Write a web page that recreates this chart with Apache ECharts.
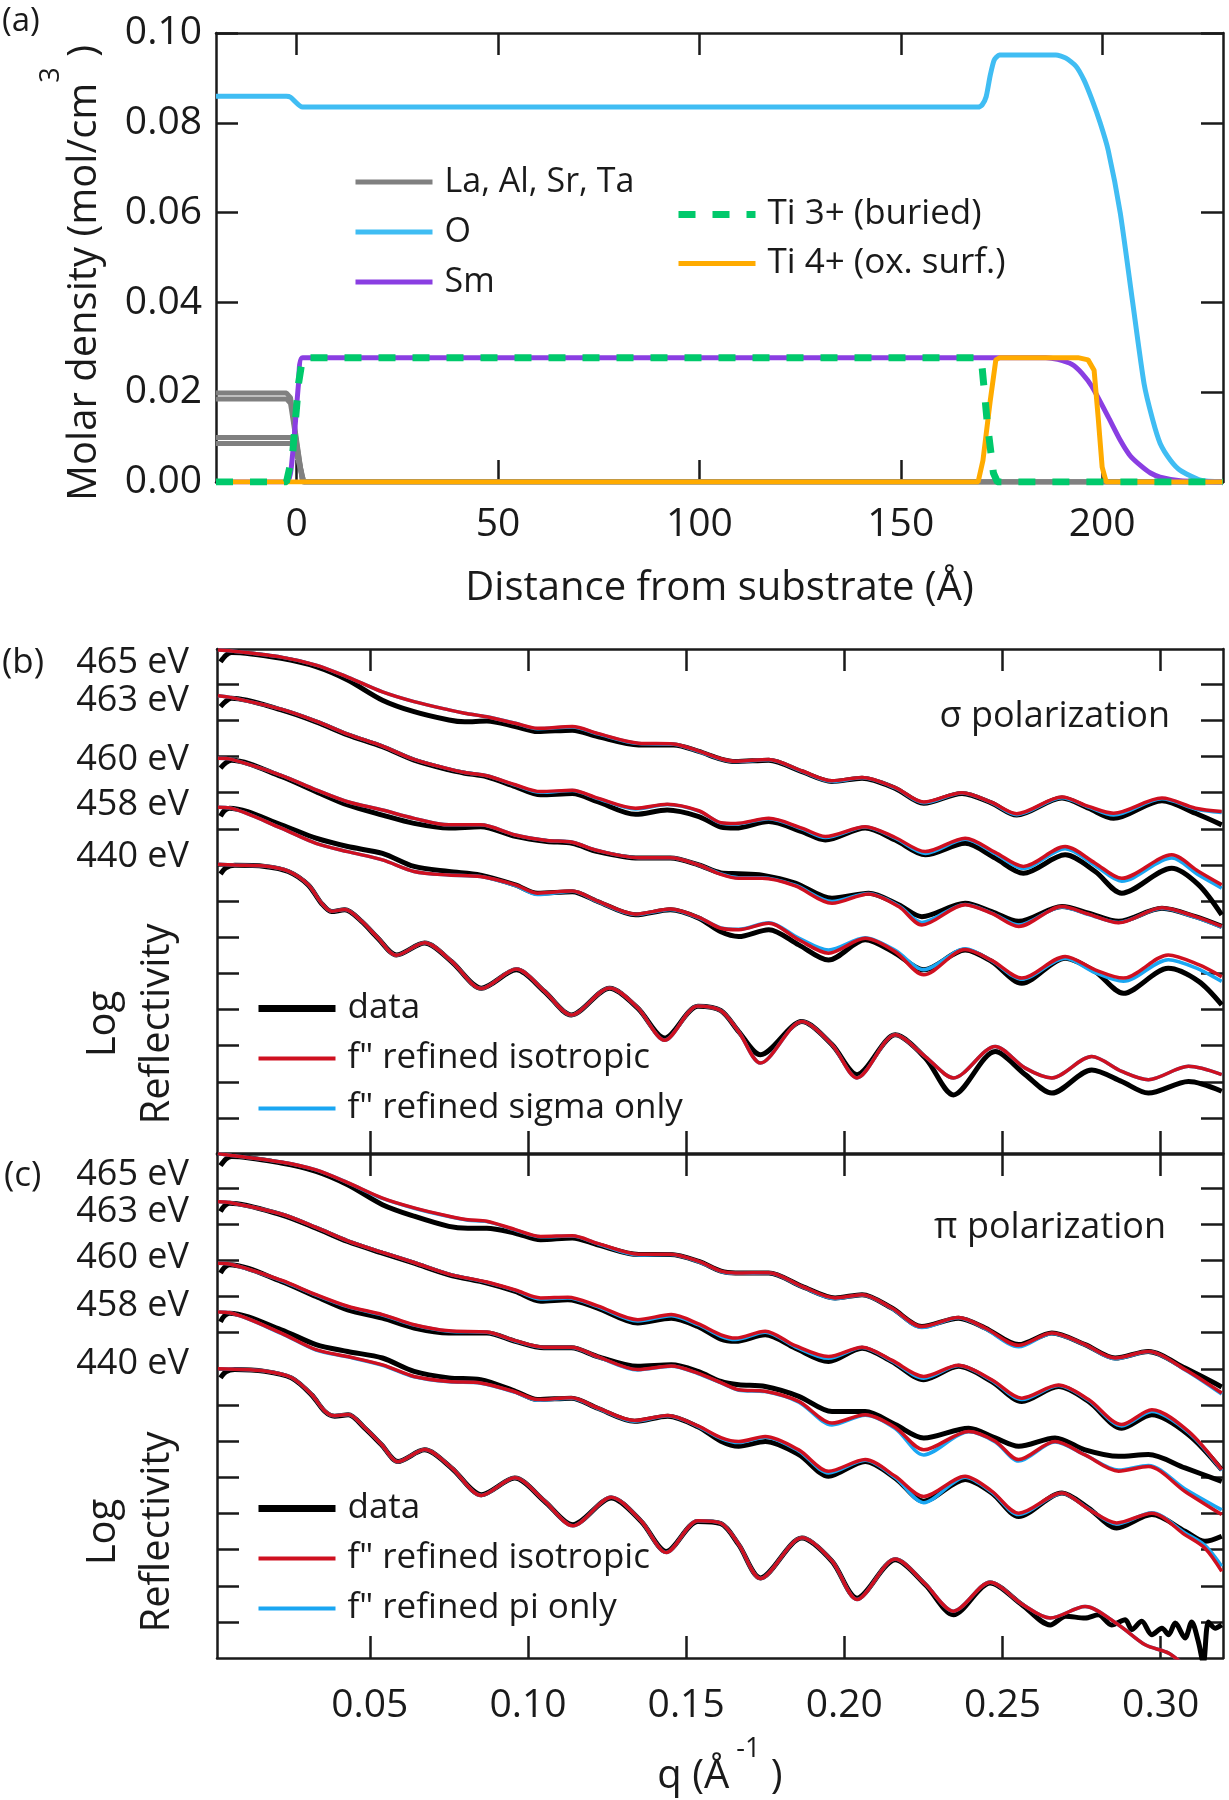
<!DOCTYPE html>
<html><head><meta charset="utf-8">
<script src="https://cdn.jsdelivr.net/npm/echarts@6/dist/echarts.min.js"></script>
<style>html,body{margin:0;padding:0;background:#fff}#chart{width:1229px;height:1800px}</style>
</head><body><div id="chart"></div>
<script>
// ---------- Panel (a): molar density profiles ----------
const distTicks = [0, 50, 100, 150, 200];
const densTicks = [0, 0.02, 0.04, 0.06, 0.08, 0.10];
const lineLa = [[-20,0.0198],[-2.5,0.0198],[-1.5,0.0188],[1.5,0],[230,0]];
const lineAl = [[-20,0.0185],[-2.5,0.0185],[-1.5,0.0175],[1.5,0],[230,0]];
const lineSr = [[-20,0.0099],[-1.5,0.0099],[-0.5,0.0090],[1.8,0],[230,0]];
const lineTa = [[-20,0.0086],[-1.5,0.0086],[-0.5,0.0078],[1.8,0],[230,0]];
const lineO  = [[-20,0.0859],[-2.5,0.0859],[-1.5,0.0857],[1.5,0.0835],[169.2,0.0835],[170.2,0.0840],[171.2,0.0858],[172.2,0.0905],[173.2,0.0940],[174.5,0.0951],[188.5,0.0951],[191,0.0944],[193.5,0.0926],[195.5,0.0895],[197.5,0.0851],[199.5,0.0800],[201.5,0.0739],[204.5,0.0599],[207.5,0.0405],[210.4,0.0219],[212.5,0.0140],[214.4,0.0086],[217,0.0048],[219.4,0.0026],[224.4,0.0004],[230,0]];
const lineSm = [[-20,0],[-2.5,0],[-1,0.006],[0.5,0.022],[1.5,0.0277],[186,0.0277],[189,0.0273],[192.5,0.0262],[195,0.0242],[197.5,0.0212],[201.5,0.0145],[204.5,0.0093],[207,0.0058],[209.5,0.0037],[212,0.0020],[214.4,0.0011],[219.4,0.0003],[230,0]];
const lineTi3 = [[-20,0],[-2.5,0],[-1,0.006],[0.5,0.022],[1.5,0.0277],[169.5,0.0277],[170.2,0.0255],[171.5,0.0130],[173,0.0020],[174,0],[230,0]];
const lineTi4 = [[-20,0],[169.2,0],[170.4,0.0048],[172.2,0.0180],[173.6,0.0272],[174.6,0.0277],[194,0.0277],[196.5,0.0272],[198,0.0249],[199,0.0145],[200,0.0033],[201,0],[230,0]];

// ---------- Panels (b), (c): log reflectivity (decades, offset) ----------
const qTicks = [0.05, 0.10, 0.15, 0.20, 0.25, 0.30];
const decadeTicks = [0,1,2,3,4,5,6,7,8,9,10,11,12];
const energyLabels = ['465 eV','463 eV','460 eV','458 eV','440 eV'];
const energyPosB = [12.6, 11.53, 9.9, 8.66, 7.22];
const energyPosC = [12.36, 11.33, 10.08, 8.75, 7.14];

// (b) sigma polarization
const b465Data = [[0.0028,12.62],[0.0045,12.8],[0.0063,12.88],[0.022,12.72],[0.033,12.49],[0.043,12.12],[0.054,11.56],[0.064,11.24],[0.075,11.01],[0.080,10.96],[0.087,10.98],[0.096,10.83],[0.103,10.69],[0.114,10.73],[0.122,10.55],[0.135,10.32],[0.146,10.32],[0.154,10.14],[0.161,9.93],[0.1656,9.86],[0.1761,9.9],[0.1866,9.58],[0.1961,9.31],[0.2056,9.4],[0.2161,9.12],[0.2251,8.71],[0.2372,8.98],[0.2466,8.71],[0.2545,8.38],[0.2688,8.85],[0.2772,8.57],[0.2851,8.29],[0.3004,8.78],[0.311,8.43],[0.3193,8.11]];
const b465Iso = [[0.002,12.95],[0.0063,12.92],[0.022,12.75],[0.033,12.53],[0.043,12.2],[0.054,11.79],[0.064,11.52],[0.075,11.29],[0.080,11.2],[0.087,11.1],[0.096,10.92],[0.103,10.78],[0.114,10.83],[0.122,10.64],[0.135,10.37],[0.146,10.35],[0.154,10.15],[0.161,9.94],[0.1656,9.87],[0.1761,9.92],[0.1866,9.6],[0.1961,9.33],[0.2056,9.42],[0.2161,9.14],[0.2251,8.74],[0.2372,9.0],[0.2466,8.73],[0.2545,8.42],[0.2688,8.88],[0.2772,8.62],[0.2851,8.43],[0.3004,8.85],[0.311,8.57],[0.3193,8.48]];
const b465Sig = [[0.002,12.95],[0.0063,12.92],[0.022,12.75],[0.033,12.53],[0.043,12.2],[0.054,11.79],[0.064,11.52],[0.075,11.29],[0.080,11.2],[0.087,11.1],[0.096,10.92],[0.103,10.77],[0.114,10.82],[0.122,10.63],[0.135,10.36],[0.146,10.34],[0.154,10.14],[0.161,9.93],[0.1656,9.86],[0.1761,9.91],[0.1866,9.59],[0.1961,9.31],[0.2056,9.41],[0.2161,9.13],[0.2251,8.72],[0.2372,8.99],[0.2466,8.72],[0.2545,8.39],[0.2688,8.86],[0.2772,8.6],[0.2851,8.38],[0.3004,8.83],[0.311,8.55],[0.3193,8.45]];

const b463Data = [[0.0028,11.38],[0.0045,11.53],[0.0063,11.61],[0.022,11.29],[0.033,10.96],[0.043,10.6],[0.054,10.27],[0.064,9.9],[0.075,9.63],[0.080,9.54],[0.087,9.44],[0.096,9.17],[0.104,8.94],[0.114,8.98],[0.122,8.75],[0.134,8.4],[0.144,8.52],[0.154,8.34],[0.161,8.05],[0.1656,8.02],[0.1761,8.2],[0.1866,7.92],[0.194,7.69],[0.2066,8.02],[0.2161,7.69],[0.2256,7.28],[0.2382,7.6],[0.2477,7.19],[0.2566,6.77],[0.2698,7.28],[0.2793,6.82],[0.2877,6.22],[0.3035,6.91],[0.312,6.45],[0.3193,5.62]];
const b463Iso = [[0.002,11.68],[0.0063,11.63],[0.022,11.31],[0.033,10.98],[0.043,10.62],[0.054,10.29],[0.064,9.92],[0.075,9.66],[0.080,9.56],[0.087,9.47],[0.096,9.22],[0.104,9.03],[0.114,9.07],[0.122,8.85],[0.134,8.57],[0.144,8.68],[0.154,8.5],[0.161,8.17],[0.1656,8.15],[0.1761,8.29],[0.1866,8.02],[0.194,7.79],[0.2066,8.06],[0.2161,7.76],[0.2256,7.37],[0.2382,7.74],[0.2477,7.35],[0.2566,6.96],[0.2698,7.51],[0.2793,7.05],[0.2877,6.63],[0.3035,7.28],[0.312,6.82],[0.3193,6.45]];
const b463Sig = [[0.002,11.68],[0.0063,11.63],[0.022,11.31],[0.033,10.98],[0.043,10.62],[0.054,10.29],[0.064,9.92],[0.075,9.66],[0.080,9.56],[0.087,9.47],[0.096,9.21],[0.104,9.01],[0.114,9.06],[0.122,8.84],[0.134,8.55],[0.144,8.67],[0.154,8.49],[0.161,8.16],[0.1656,8.13],[0.1761,8.28],[0.1866,8.0],[0.194,7.76],[0.2066,8.05],[0.2161,7.74],[0.2256,7.32],[0.2382,7.71],[0.2477,7.31],[0.2566,6.9],[0.2698,7.45],[0.2793,6.98],[0.2877,6.55],[0.3035,7.19],[0.312,6.72],[0.3193,6.36]];

const b460Data = [[0.0028,9.68],[0.0045,9.83],[0.0063,9.9],[0.022,9.45],[0.033,9.03],[0.043,8.66],[0.054,8.38],[0.064,8.15],[0.075,8.02],[0.085,8.06],[0.096,7.79],[0.106,7.65],[0.114,7.6],[0.122,7.37],[0.135,7.19],[0.145,7.19],[0.154,7.0],[0.161,6.78],[0.1666,6.76],[0.174,6.72],[0.1845,6.5],[0.1961,6.08],[0.2077,6.22],[0.2172,5.9],[0.2245,5.57],[0.2382,5.94],[0.2466,5.71],[0.2551,5.44],[0.2688,5.85],[0.2772,5.67],[0.2867,5.44],[0.3004,5.8],[0.311,5.57],[0.3193,5.3]];
const b460Iso = [[0.002,9.95],[0.0063,9.92],[0.022,9.48],[0.033,9.08],[0.043,8.75],[0.054,8.52],[0.064,8.29],[0.075,8.11],[0.085,8.11],[0.096,7.83],[0.106,7.68],[0.114,7.63],[0.122,7.4],[0.135,7.2],[0.145,7.2],[0.154,7.0],[0.161,6.74],[0.1666,6.63],[0.174,6.63],[0.1845,6.42],[0.1961,5.94],[0.2077,6.2],[0.2172,5.85],[0.2245,5.34],[0.2382,5.9],[0.2466,5.66],[0.2551,5.3],[0.2688,5.85],[0.2772,5.64],[0.2867,5.4],[0.3004,5.82],[0.311,5.57],[0.3193,5.3]];
const b460Sig = [[0.002,9.95],[0.0063,9.92],[0.022,9.48],[0.033,9.08],[0.043,8.75],[0.054,8.52],[0.064,8.29],[0.075,8.11],[0.085,8.11],[0.096,7.83],[0.106,7.68],[0.114,7.63],[0.122,7.4],[0.135,7.2],[0.145,7.2],[0.154,7.0],[0.161,6.75],[0.1666,6.65],[0.174,6.65],[0.1845,6.44],[0.1961,5.99],[0.2077,6.21],[0.2172,5.87],[0.2245,5.41],[0.2382,5.91],[0.2466,5.67],[0.2551,5.34],[0.2688,5.84],[0.2772,5.63],[0.2867,5.41],[0.3004,5.8],[0.311,5.55],[0.3193,5.28]];

const b458Data = [[0.0028,8.35],[0.004,8.5],[0.0057,8.57],[0.022,8.11],[0.033,7.74],[0.043,7.51],[0.054,7.32],[0.064,6.96],[0.075,6.82],[0.085,6.72],[0.096,6.45],[0.103,6.22],[0.114,6.26],[0.122,5.99],[0.134,5.62],[0.145,5.76],[0.154,5.53],[0.161,5.15],[0.1666,5.02],[0.1761,5.21],[0.1856,4.79],[0.195,4.37],[0.2066,4.93],[0.2161,4.56],[0.2251,4.1],[0.2382,4.65],[0.2466,4.33],[0.2561,3.73],[0.2698,4.42],[0.2793,4.05],[0.2882,3.45],[0.3024,4.14],[0.312,3.78],[0.3193,3.13]];
const b458Iso = [[0.002,8.6],[0.0057,8.58],[0.022,8.02],[0.033,7.6],[0.043,7.37],[0.054,7.14],[0.064,6.82],[0.075,6.72],[0.085,6.68],[0.096,6.45],[0.103,6.22],[0.114,6.28],[0.122,6.0],[0.134,5.64],[0.145,5.78],[0.154,5.55],[0.161,5.25],[0.1666,5.21],[0.1761,5.39],[0.1856,4.93],[0.195,4.56],[0.2066,4.97],[0.2161,4.6],[0.2251,3.96],[0.2382,4.66],[0.2466,4.36],[0.2561,3.87],[0.2698,4.47],[0.2793,4.1],[0.2882,3.87],[0.3024,4.51],[0.312,4.24],[0.3193,3.91]];
const b458Sig = [[0.002,8.6],[0.0057,8.58],[0.022,8.02],[0.033,7.6],[0.043,7.37],[0.054,7.14],[0.064,6.82],[0.075,6.72],[0.085,6.68],[0.096,6.43],[0.103,6.18],[0.114,6.27],[0.122,5.99],[0.134,5.63],[0.145,5.77],[0.154,5.54],[0.161,5.26],[0.1666,5.22],[0.1761,5.4],[0.1856,4.98],[0.195,4.65],[0.2066,4.99],[0.2161,4.64],[0.2251,4.1],[0.2382,4.68],[0.2466,4.35],[0.2561,3.84],[0.2698,4.42],[0.2793,4.02],[0.2882,3.78],[0.3024,4.38],[0.312,4.12],[0.3193,3.78]];

const b440Data = [[0.0028,6.75],[0.0045,6.92],[0.0073,6.99],[0.0168,6.96],[0.0242,6.82],[0.0305,6.45],[0.0347,5.94],[0.0379,5.71],[0.0421,5.76],[0.0474,5.44],[0.0526,4.97],[0.0584,4.51],[0.0673,4.84],[0.0758,4.33],[0.0853,3.59],[0.0963,4.1],[0.1052,3.5],[0.1137,2.85],[0.1258,3.59],[0.1347,3.04],[0.1432,2.21],[0.1537,3.09],[0.161,2.97],[0.1666,2.39],[0.1735,1.75],[0.1866,2.67],[0.1961,2.03],[0.204,1.2],[0.2161,2.3],[0.2256,1.66],[0.2345,0.64],[0.2477,1.84],[0.2572,1.2],[0.2656,0.69],[0.2782,1.33],[0.2877,1.01],[0.2961,0.69],[0.3088,1.01],[0.3193,0.74]];
const b440Iso = [[0.002,7.02],[0.0073,7.0],[0.0168,6.97],[0.0242,6.83],[0.0305,6.46],[0.0347,5.95],[0.0379,5.72],[0.0421,5.77],[0.0474,5.45],[0.0526,4.98],[0.0584,4.5],[0.0673,4.85],[0.0758,4.34],[0.0853,3.58],[0.0963,4.12],[0.1052,3.51],[0.1137,2.85],[0.1258,3.6],[0.1347,3.05],[0.1432,2.15],[0.1537,3.1],[0.161,2.97],[0.1666,2.39],[0.1735,1.52],[0.1866,2.67],[0.1961,2.03],[0.204,1.11],[0.2161,2.3],[0.2256,1.7],[0.2345,1.11],[0.2477,1.98],[0.2572,1.38],[0.2656,1.11],[0.2782,1.7],[0.2877,1.29],[0.2961,1.06],[0.3088,1.43],[0.3193,1.2]];
const b440Sig = [[0.002,7.02],[0.0073,7.0],[0.0168,6.97],[0.0242,6.83],[0.0305,6.46],[0.0347,5.95],[0.0379,5.72],[0.0421,5.77],[0.0474,5.45],[0.0526,4.98],[0.0584,4.5],[0.0673,4.85],[0.0758,4.34],[0.0853,3.58],[0.0963,4.12],[0.1052,3.51],[0.1137,2.85],[0.1258,3.6],[0.1347,3.05],[0.1432,2.15],[0.1537,3.1],[0.161,2.97],[0.1666,2.39],[0.1735,1.52],[0.1866,2.67],[0.1961,2.03],[0.204,1.11],[0.2161,2.3],[0.2256,1.7],[0.2345,1.11],[0.2477,1.98],[0.2572,1.38],[0.2656,1.11],[0.2782,1.7],[0.2877,1.29],[0.2961,1.06],[0.3088,1.43],[0.3193,1.2]];

// (c) pi polarization
const c465Data = [[0.0028,12.62],[0.0045,12.8],[0.0063,12.87],[0.022,12.69],[0.033,12.46],[0.043,12.09],[0.054,11.54],[0.064,11.22],[0.075,10.94],[0.081,10.89],[0.087,10.89],[0.096,10.75],[0.104,10.57],[0.114,10.62],[0.122,10.43],[0.135,10.16],[0.145,10.16],[0.154,9.97],[0.161,9.7],[0.1656,9.65],[0.1761,9.65],[0.1866,9.28],[0.1971,8.96],[0.2056,9.05],[0.215,8.68],[0.2245,8.17],[0.2361,8.4],[0.2445,8.13],[0.2551,7.67],[0.2656,7.99],[0.2761,7.67],[0.2856,7.3],[0.2961,7.48],[0.3077,7.02],[0.3193,6.5]];
const c465Iso = [[0.002,12.95],[0.0063,12.9],[0.022,12.72],[0.033,12.5],[0.043,12.15],[0.054,11.72],[0.064,11.45],[0.075,11.22],[0.081,11.12],[0.087,11.08],[0.096,10.85],[0.104,10.66],[0.114,10.68],[0.122,10.47],[0.135,10.17],[0.145,10.17],[0.154,9.97],[0.161,9.7],[0.1656,9.65],[0.1761,9.66],[0.1866,9.28],[0.1971,8.96],[0.2056,9.05],[0.215,8.68],[0.2245,8.17],[0.2361,8.42],[0.2445,8.13],[0.2551,7.65],[0.2656,7.99],[0.2761,7.67],[0.2856,7.3],[0.2961,7.48],[0.3077,6.98],[0.3193,6.33]];
const c465Pi  = [[0.002,12.95],[0.0063,12.9],[0.022,12.72],[0.033,12.5],[0.043,12.15],[0.054,11.71],[0.064,11.44],[0.075,11.21],[0.081,11.11],[0.087,11.07],[0.096,10.84],[0.104,10.65],[0.114,10.67],[0.122,10.46],[0.135,10.15],[0.145,10.16],[0.154,9.96],[0.161,9.69],[0.1656,9.64],[0.1761,9.65],[0.1866,9.27],[0.1971,8.94],[0.2056,9.04],[0.215,8.67],[0.2245,8.14],[0.2361,8.41],[0.2445,8.11],[0.2551,7.61],[0.2656,7.98],[0.2761,7.66],[0.2856,7.28],[0.2961,7.47],[0.3077,6.97],[0.3193,6.3]];

const c463Data = [[0.0028,11.35],[0.004,11.5],[0.0057,11.58],[0.022,11.26],[0.033,10.89],[0.043,10.52],[0.054,10.2],[0.064,9.92],[0.075,9.6],[0.087,9.37],[0.096,9.14],[0.104,8.87],[0.1126,8.91],[0.122,8.68],[0.1347,8.27],[0.1453,8.4],[0.1537,8.17],[0.161,7.82],[0.1656,7.76],[0.175,7.94],[0.1845,7.57],[0.195,7.2],[0.2056,7.57],[0.215,7.2],[0.2251,6.7],[0.2361,7.07],[0.2466,6.65],[0.2561,6.1],[0.2677,6.51],[0.2772,6.1],[0.2877,5.36],[0.2972,5.73],[0.3088,5.18],[0.3193,4.21]];
const c463Iso = [[0.002,11.62],[0.0057,11.6],[0.022,11.28],[0.033,10.91],[0.043,10.54],[0.054,10.22],[0.064,9.94],[0.075,9.62],[0.087,9.4],[0.096,9.18],[0.104,8.96],[0.1126,8.98],[0.122,8.74],[0.1347,8.36],[0.1453,8.5],[0.1537,8.25],[0.161,7.94],[0.1656,7.85],[0.175,8.04],[0.1845,7.64],[0.195,7.34],[0.2056,7.6],[0.215,7.24],[0.2251,6.79],[0.2361,7.1],[0.2466,6.7],[0.2561,6.19],[0.2677,6.55],[0.2772,6.15],[0.2877,5.46],[0.2972,5.87],[0.3088,5.27],[0.3193,4.21]];
const c463Pi  = [[0.002,11.62],[0.0057,11.6],[0.022,11.28],[0.033,10.91],[0.043,10.54],[0.054,10.22],[0.064,9.94],[0.075,9.62],[0.087,9.39],[0.096,9.17],[0.104,8.93],[0.1126,8.96],[0.122,8.72],[0.1347,8.32],[0.1453,8.47],[0.1537,8.22],[0.161,7.9],[0.1656,7.81],[0.175,8.01],[0.1845,7.61],[0.195,7.29],[0.2056,7.59],[0.215,7.22],[0.2251,6.74],[0.2361,7.09],[0.2466,6.68],[0.2561,6.15],[0.2677,6.54],[0.2772,6.13],[0.2877,5.42],[0.2972,5.82],[0.3088,5.24],[0.3193,4.19]];

const c460Data = [[0.0028,9.65],[0.004,9.8],[0.0057,9.88],[0.022,9.42],[0.033,9.0],[0.043,8.63],[0.054,8.4],[0.064,8.13],[0.075,7.99],[0.087,7.99],[0.096,7.76],[0.105,7.58],[0.1137,7.58],[0.122,7.34],[0.1347,7.07],[0.1453,7.11],[0.1537,6.93],[0.161,6.65],[0.1666,6.56],[0.175,6.51],[0.1856,6.24],[0.1961,5.82],[0.2066,5.82],[0.2161,5.46],[0.2251,5.09],[0.2393,5.36],[0.2477,5.09],[0.2551,4.86],[0.2666,5.09],[0.2761,4.76],[0.2867,4.58],[0.2961,4.63],[0.3077,4.26],[0.3193,3.89]];
const c460Iso = [[0.002,9.92],[0.0057,9.9],[0.022,9.45],[0.033,9.05],[0.043,8.73],[0.054,8.5],[0.064,8.22],[0.075,8.05],[0.087,8.02],[0.096,7.78],[0.105,7.6],[0.1137,7.6],[0.122,7.34],[0.1347,6.98],[0.1453,7.08],[0.1537,6.88],[0.161,6.62],[0.1666,6.42],[0.175,6.38],[0.1856,6.1],[0.1961,5.5],[0.2066,5.73],[0.2161,5.38],[0.2251,4.76],[0.2393,5.27],[0.2477,5.0],[0.2551,4.49],[0.2666,4.99],[0.2761,4.62],[0.2867,4.17],[0.2961,4.3],[0.3077,3.61],[0.3193,2.97]];
const c460Pi  = [[0.002,9.92],[0.0057,9.9],[0.022,9.44],[0.033,9.04],[0.043,8.72],[0.054,8.49],[0.064,8.21],[0.075,8.04],[0.087,8.01],[0.096,7.77],[0.105,7.59],[0.1137,7.59],[0.122,7.33],[0.1347,6.97],[0.1453,7.07],[0.1537,6.87],[0.161,6.61],[0.1666,6.41],[0.175,6.37],[0.1856,6.08],[0.1961,5.45],[0.2066,5.72],[0.2161,5.35],[0.2251,4.62],[0.2393,5.26],[0.2477,4.98],[0.2551,4.45],[0.2666,4.98],[0.2761,4.62],[0.2867,4.2],[0.2961,4.33],[0.3077,3.68],[0.3193,3.1]];

const c458Data = [[0.0028,8.3],[0.004,8.46],[0.0057,8.54],[0.022,8.08],[0.033,7.67],[0.043,7.48],[0.054,7.3],[0.064,6.93],[0.075,6.75],[0.085,6.7],[0.096,6.38],[0.103,6.15],[0.1137,6.19],[0.122,5.91],[0.1337,5.55],[0.1442,5.69],[0.1537,5.4],[0.161,5.0],[0.1666,4.86],[0.175,4.99],[0.1856,4.63],[0.195,4.03],[0.2066,4.44],[0.2161,3.98],[0.2251,3.34],[0.2382,3.94],[0.2466,3.57],[0.2551,2.92],[0.2688,3.57],[0.2772,3.15],[0.2861,2.6],[0.2972,2.97],[0.3077,2.51],[0.314,2.23],[0.3193,2.37]];
const c458Iso = [[0.002,8.57],[0.0057,8.55],[0.022,7.99],[0.033,7.53],[0.043,7.34],[0.054,7.11],[0.064,6.79],[0.075,6.65],[0.085,6.61],[0.096,6.36],[0.103,6.15],[0.1137,6.2],[0.122,5.92],[0.1337,5.57],[0.1442,5.71],[0.1537,5.42],[0.161,5.1],[0.1666,4.99],[0.175,5.13],[0.1856,4.76],[0.195,4.17],[0.2066,4.49],[0.2161,4.03],[0.2251,3.47],[0.2382,4.03],[0.2466,3.62],[0.2551,3.01],[0.2688,3.57],[0.2772,3.12],[0.2861,2.74],[0.2972,3.01],[0.3077,2.41],[0.314,2.04],[0.3193,1.4]];
const c458Pi  = [[0.002,8.57],[0.0057,8.55],[0.022,7.98],[0.033,7.52],[0.043,7.33],[0.054,7.1],[0.064,6.78],[0.075,6.64],[0.085,6.6],[0.096,6.35],[0.103,6.13],[0.1137,6.19],[0.122,5.91],[0.1337,5.55],[0.1442,5.7],[0.1537,5.41],[0.161,5.08],[0.1666,4.96],[0.175,5.11],[0.1856,4.73],[0.195,4.12],[0.2066,4.47],[0.2161,3.99],[0.2251,3.3],[0.2382,4.0],[0.2466,3.59],[0.2551,2.97],[0.2688,3.56],[0.2772,3.13],[0.2861,2.71],[0.2972,3.02],[0.3077,2.46],[0.314,2.12],[0.3193,1.54]];

const c440Data = [[0.0028,6.75],[0.0045,6.92],[0.0073,6.98],[0.0168,6.93],[0.0252,6.75],[0.0316,6.28],[0.0358,5.82],[0.0389,5.69],[0.0432,5.73],[0.0484,5.36],[0.0537,4.9],[0.0589,4.44],[0.0673,4.76],[0.0758,4.26],[0.0853,3.52],[0.0958,3.98],[0.1052,3.34],[0.1142,2.69],[0.1263,3.43],[0.1358,2.78],[0.1437,1.95],[0.1537,2.78],[0.161,2.72],[0.1666,2.14],[0.1735,1.22],[0.1866,2.32],[0.1961,1.68],[0.204,0.66],[0.2161,1.72],[0.2256,1.03],[0.2345,0.2],[0.2461,1.08],[0.2561,0.48],[0.2651,-0.08],[0.2700,0.16],[0.2761,0.11],[0.2803,0.2],[0.2845,-0.08],[0.2888,0.06],[0.2909,-0.21],[0.2940,0.02],[0.2972,-0.35],[0.3004,-0.17],[0.3025,-0.35],[0.3046,-0.03],[0.3077,-0.44],[0.3098,0.0],[0.3119,-0.54],[0.3135,-1.13],[0.3151,0.0],[0.3172,-0.17],[0.3193,-0.08]];
const c440Iso = [[0.002,7.0],[0.0073,6.99],[0.0168,6.94],[0.0252,6.76],[0.0316,6.29],[0.0358,5.83],[0.0389,5.7],[0.0432,5.74],[0.0484,5.37],[0.0537,4.91],[0.0589,4.43],[0.0673,4.77],[0.0758,4.27],[0.0853,3.5],[0.0958,3.99],[0.1052,3.35],[0.1142,2.66],[0.1263,3.45],[0.1358,2.79],[0.1437,1.92],[0.1537,2.8],[0.161,2.73],[0.1666,2.15],[0.1735,1.2],[0.1866,2.33],[0.1961,1.69],[0.204,0.62],[0.2161,1.74],[0.2256,1.05],[0.2345,0.3],[0.2461,1.1],[0.2561,0.5],[0.2651,0.11],[0.2761,0.43],[0.2867,-0.08],[0.2951,-0.63],[0.3025,-0.86],[0.3067,-1.14],[0.3100,-1.4]];
const c440Pi  = [[0.002,7.0],[0.0073,6.99],[0.0168,6.94],[0.0252,6.76],[0.0316,6.29],[0.0358,5.83],[0.0389,5.7],[0.0432,5.74],[0.0484,5.37],[0.0537,4.91],[0.0589,4.43],[0.0673,4.77],[0.0758,4.27],[0.0853,3.5],[0.0958,3.99],[0.1052,3.35],[0.1142,2.66],[0.1263,3.45],[0.1358,2.79],[0.1437,1.92],[0.1537,2.8],[0.161,2.73],[0.1666,2.15],[0.1735,1.2],[0.1866,2.33],[0.1961,1.69],[0.204,0.62],[0.2161,1.74],[0.2256,1.05],[0.2345,0.3],[0.2461,1.1],[0.2561,0.5],[0.2651,0.11],[0.2761,0.43],[0.2867,-0.08],[0.2951,-0.63],[0.3025,-0.86],[0.3067,-1.14],[0.3100,-1.4]];

// ---------- styling ----------
const FONT = 'Open Sans';
const AX = '#1a1a1a', TXT = '#1a1a1a';
const C = {gray:'#808080', O:'#40bdf3', Sm:'#8a3ee2', Ti3:'#00c96b', Ti4:'#ffab00', data:'#000000', iso:'#cf1020', sig:'#1aa6f2'};

function frame(kind, grid, pos, min, max, ticks, opts) {
  const o = Object.assign({
    type:'value', gridIndex:grid, position:pos, min:min, max:max,
    axisLine:{show:true, onZero:false, lineStyle:{color:AX, width:2.5}},
    axisTick:{show:true, inside:true, length:22, lineStyle:{color:AX, width:2.5}},
    axisLabel:{show:false},
    splitLine:{show:false}
  }, opts || {});
  if (ticks) { o.axisTick.customValues = ticks; }
  return o;
}
const labelStyle = (size, margin) => ({fontSize:size, fontFamily:FONT, color:TXT, margin:margin});

const xAxes = [
  frame('x',0,'bottom',-20,230,distTicks,{
    axisLabel:Object.assign({show:true, customValues:distTicks}, labelStyle(39,23)),
    name:'Distance from substrate (Å)', nameLocation:'middle', nameGap:87,
    nameTextStyle:{fontSize:40, fontFamily:FONT, color:TXT}}),
  frame('x',0,'top',-20,230,distTicks),
  frame('x',1,'bottom',0.0017,0.3197,qTicks),
  frame('x',1,'top',0.0017,0.3197,qTicks),
  frame('x',2,'bottom',0.0017,0.3197,qTicks,{
    axisLabel:Object.assign({show:true, customValues:qTicks, formatter:v=>v.toFixed(2)}, labelStyle(39,28)),
    name:'q (Å{sup| -1} )', nameLocation:'middle', nameGap:78,
    nameTextStyle:{fontSize:40, fontFamily:FONT, color:TXT, lineHeight:82,
      rich:{sup:{fontSize:27, fontFamily:FONT, color:TXT, verticalAlign:'top', lineHeight:27}}}}),
  frame('x',2,'top',0.0017,0.3197,qTicks)
];

function energyAxis(grid, min, max, pos) {
  return {type:'value', gridIndex:grid, position:'left', min:min, max:max,
    axisLine:{show:false}, axisTick:{show:false}, splitLine:{show:false},
    axisLabel:Object.assign({show:true, customValues:pos,
      formatter:v=>{let bi=0; pos.forEach((p,i)=>{ if (Math.abs(p-v)<Math.abs(pos[bi]-v)) bi=i; }); return energyLabels[bi];}},
      labelStyle(36,28))};
}

const yAxes = [
  frame('y',0,'left',0,0.10,null,{interval:0.02,
    axisLabel:Object.assign({show:true, formatter:v=>v.toFixed(2)}, labelStyle(39,14))}),
  frame('y',0,'right',0,0.10,null,{interval:0.02}),
  frame('y',1,'left',-0.968,12.975,decadeTicks),
  frame('y',1,'right',-0.968,12.975,decadeTicks),
  energyAxis(1,-0.968,12.975,energyPosB),
  frame('y',2,'left',-0.995,12.94,decadeTicks),
  frame('y',2,'right',-0.995,12.94,decadeTicks),
  energyAxis(2,-0.995,12.94,energyPosC)
];

function ln(name, data, color, width, xi, yi, extra) {
  return Object.assign({type:'line', name:name, data:data, xAxisIndex:xi, yAxisIndex:yi,
    showSymbol:false, symbol:'none', animation:false, clip:true,
    lineStyle:{color:color, width:width}, itemStyle:{color:color}}, extra || {});
}

const series = [];
// panel (a)
[lineLa, lineAl, lineSr, lineTa].forEach(d => series.push(ln('La, Al, Sr, Ta', d, C.gray, 5, 0, 0)));
series.push(ln('O', lineO, C.O, 5, 0, 0, {smooth:0.2}));
series.push(ln('Sm', lineSm, C.Sm, 5, 0, 0, {smooth:0.2}));
series.push(ln('Ti 4+ (ox. surf.)', lineTi4, C.Ti4, 5, 0, 0));
series.push(ln('Ti 3+ (buried)', lineTi3, C.Ti3, 7, 0, 0, {lineStyle:{color:C.Ti3, width:7, type:[17,17]}}));
// panel (b)
const bSets = [[b465Data,b465Sig,b465Iso],[b463Data,b463Sig,b463Iso],[b460Data,b460Sig,b460Iso],[b458Data,b458Sig,b458Iso],[b440Data,b440Sig,b440Iso]];
bSets.forEach(s => series.push(ln('data', s[0], C.data, 5, 2, 2, {smooth:0.3})));
bSets.forEach(s => series.push(ln('f" refined sigma only', s[1], C.sig, 3.5, 2, 2, {smooth:0.3})));
bSets.forEach(s => series.push(ln('f" refined isotropic', s[2], C.iso, 3.5, 2, 2, {smooth:0.3})));
// panel (c)
const cSets = [[c465Data,c465Pi,c465Iso],[c463Data,c463Pi,c463Iso],[c460Data,c460Pi,c460Iso],[c458Data,c458Pi,c458Iso],[c440Data,c440Pi,c440Iso]];
cSets.forEach(s => series.push(ln('data', s[0], C.data, 5, 4, 5, {smooth:0.3})));
cSets.forEach(s => series.push(ln('f" refined pi only', s[1], C.sig, 3.5, 4, 5, {smooth:0.3})));
cSets.forEach(s => series.push(ln('f" refined isotropic', s[2], C.iso, 3.5, 4, 5, {smooth:0.3})));

function legend(items, left, top, size, gap) {
  return {data:items, orient:'vertical', left:left, top:top, itemWidth:77, itemHeight:14, itemGap:gap,
    selectedMode:false, itemStyle:{opacity:0, color:'rgba(0,0,0,0)', borderWidth:0},
    textStyle:{fontSize:size, lineHeight:size, fontFamily:FONT, color:TXT, padding:[0,0,0,7]}};
}
const li = (name, w, extra) => ({name:name, lineStyle:Object.assign({width:w}, extra || {})});

function gtext(text, x, y, size, align, rot, extra) {
  return Object.assign({type:'text', x:x, y:y, rotation:rot||0, silent:true,
    style:{text:text, fontSize:size, fontFamily:FONT, fill:TXT, align:align, textAlign:align,
      verticalAlign:'middle', textVerticalAlign:'middle'}}, extra || {});
}

const gridBase = {containLabel:false, outerBoundsMode:'none'};
const option = {
  backgroundColor:'#ffffff',
  animation:false,
  grid:[
    Object.assign({left:216, top:33, width:1007, height:449}, gridBase),
    Object.assign({left:217, top:649, width:1006, height:504}, gridBase),
    Object.assign({left:217, top:1154, width:1006, height:504}, gridBase)
  ],
  xAxis:xAxes, yAxis:yAxes, series:series,
  legend:[
    legend([li('La, Al, Sr, Ta',5), li('O',5), li('Sm',5)], 348, 160, 34, 16),
    legend([li('Ti 3+ (buried)',7,{type:[17,17]}), li('Ti 4+ (ox. surf.)',5)], 670, 192, 35, 14),
    legend([li('data',7), li('f" refined isotropic',4), li('f" refined sigma only',4)], 250, 986, 35, 15),
    legend([li('data',7), li('f" refined isotropic',4), li('f" refined pi only',4)], 250, 1486, 35, 15)
  ],
  graphic:[
    gtext('(a)', 2, 22, 33, 'left'),
    gtext('(b)', 2, 663, 35, 'left'),
    gtext('(c)', 4, 1176, 35, 'left'),
    gtext('σ polarization', 1170, 717, 36, 'right'),
    gtext('π polarization', 1166, 1228, 36, 'right'),
    gtext('Log', 104, 1024, 40, 'center', Math.PI/2),
    gtext('Reflectivity', 158, 1024, 40, 'center', Math.PI/2),
    gtext('Log', 104, 1532, 40, 'center', Math.PI/2),
    gtext('Reflectivity', 158, 1532, 40, 'center', Math.PI/2),
    {type:'text', x:85, y:273, rotation:Math.PI/2, silent:true,
      style:{text:'Molar density (mol/cm{sup|3} )', fontSize:40, fontFamily:FONT, fill:TXT,
        align:'center', textAlign:'center', verticalAlign:'middle', textVerticalAlign:'middle', lineHeight:94,
        rich:{sup:{fontSize:27, fontFamily:FONT, fill:TXT, color:TXT, verticalAlign:'top', lineHeight:27}}}}
  ]
};

const chart = echarts.init(document.getElementById('chart'), null, {renderer:'canvas', width:1229, height:1800});
chart.setOption(option);
</script></body></html>
